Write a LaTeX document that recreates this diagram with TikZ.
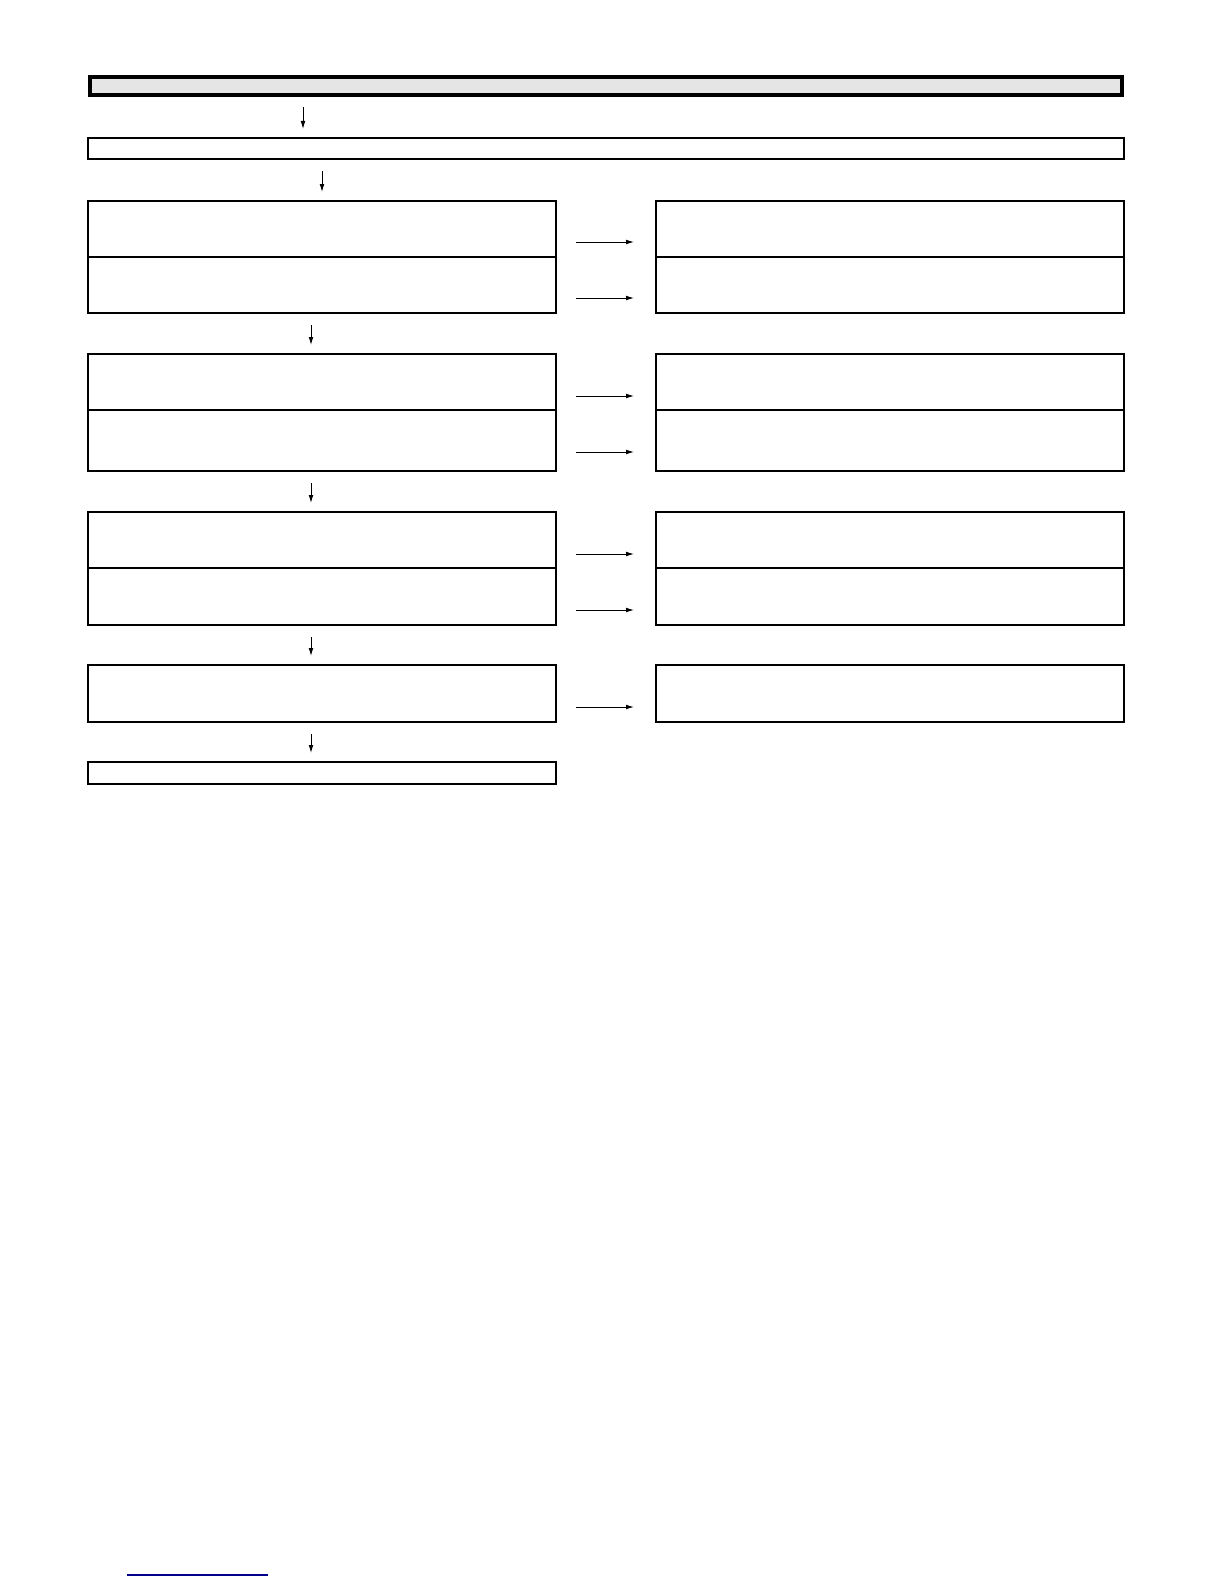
\documentclass[tikz,border=0pt]{standalone}
\usepackage{tikz}
\usetikzlibrary{positioning,calc,arrows.meta}
\tikzstyle{block} = [draw, rectangle, line width=0.65pt, inner sep=0pt, outer sep=0pt, anchor=north west, minimum width=234pt, minimum height=28pt]
\tikzstyle{wide} = [block, minimum width=518pt, minimum height=10.5pt]
\tikzstyle{head} = [draw, rectangle, line width=2pt, fill=black!10, inner sep=0pt, outer sep=0pt, anchor=north west, minimum width=516pt, minimum height=9pt]
\tikzstyle{to} = [-{Latex[length=4pt,width=2.4pt]}, line width=0.5pt, shorten <=6pt, shorten >=4.5pt]
\tikzstyle{side} = [to, shorten <=10pt, shorten >=11pt]
\begin{document}
\begin{tikzpicture}[x=0.5pt, y=-0.5pt]
		\useasboundingbox (0,0) rectangle (1224,1584);
		\node (hdr) [head] at (90,77) {};
		\node (bar) [wide] at (88,138) {};
		% left column
		\node (l1a) [block] at (88,201) {};
		\node (l1b) [block] at (88,257) {};
		\node (l2a) [block] at (88,354) {};
		\node (l2b) [block, minimum height=30.5pt] at (88,410) {};
		\node (l3a) [block] at (88,512) {};
		\node (l3b) [block, minimum height=28.5pt] at (88,568) {};
		\node (l4) [block, minimum height=28.5pt] at (88,665) {};
		\node (end) [block, minimum height=11pt] at (88,762) {};
		% right column
		\node (r1a) [block] at (656,201) {};
		\node (r1b) [block] at (656,257) {};
		\node (r2a) [block] at (656,354) {};
		\node (r2b) [block, minimum height=30.5pt] at (656,410) {};
		\node (r3a) [block] at (656,512) {};
		\node (r3b) [block, minimum height=28.5pt] at (656,568) {};
		\node (r4) [block, minimum height=28.5pt] at (656,665) {};
		%
		\draw[to] ([xshift=106.5pt]hdr.south west) -- ([xshift=107.5pt]bar.north west);
		\draw[to] ([xshift=117pt]bar.south west) -- (l1a.north);
		\draw[to] ([xshift=-5.5pt]l1b.south) -- ([xshift=-5.5pt]l2a.north);
		\draw[to] ([xshift=-5.5pt]l2b.south) -- ([xshift=-5.5pt]l3a.north);
		\draw[to] ([xshift=-5.5pt]l3b.south) -- ([xshift=-5.5pt]l4.north);
		\draw[to] ([xshift=-5.5pt]l4.south) -- ([xshift=-5.5pt]end.north);
		%
		\draw[side] ([yshift=7.5pt]l1a.south east) -- ([yshift=7.5pt]r1a.south west);
		\draw[side] ([yshift=7.5pt]l1b.south east) -- ([yshift=7.5pt]r1b.south west);
		\draw[side] ([yshift=7pt]l2a.south east) -- ([yshift=7pt]r2a.south west);
		\draw[side] ([yshift=9.5pt]l2b.south east) -- ([yshift=9.5pt]r2b.south west);
		\draw[side] ([yshift=7pt]l3a.south east) -- ([yshift=7pt]r3a.south west);
		\draw[side] ([yshift=7.5pt]l3b.south east) -- ([yshift=7.5pt]r3b.south west);
		\draw[side] ([yshift=7.5pt]l4.south east) -- ([yshift=7.5pt]r4.south west);
		%
		\draw[blue!55!black, line width=0.6pt] (127,1575) -- (268,1575);
\end{tikzpicture}
\end{document}
